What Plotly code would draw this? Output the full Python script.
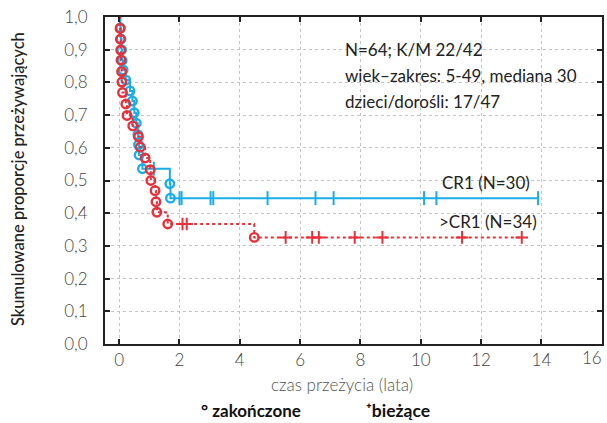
import plotly.graph_objects as go

# ---- data ----
# CR1 (N=30) group: event times (years) and survival after each event
cr1_event_t = [0.04, 0.06, 0.08, 0.10, 0.13, 0.22, 0.36, 0.44, 0.50, 0.57, 0.62, 0.64, 0.66, 0.77, 1.68, 1.70]
cr1_event_s = [0.967, 0.933, 0.900, 0.867, 0.838, 0.807, 0.774, 0.743, 0.707, 0.675, 0.640, 0.609, 0.578, 0.536, 0.490, 0.446]
cr1_censor_t = [1.15, 2.00, 2.07, 3.03, 3.12, 4.92, 6.51, 7.11, 10.11, 10.52, 13.89]

# >CR1 (N=34) group
gcr1_event_t = [0.03, 0.04, 0.05, 0.06, 0.08, 0.09, 0.11, 0.22, 0.26, 0.45, 0.64, 0.70, 0.86, 1.03, 1.05, 1.19, 1.22, 1.25, 1.61, 4.48]
gcr1_event_s = [0.965, 0.932, 0.899, 0.868, 0.833, 0.801, 0.769, 0.734, 0.699, 0.667, 0.634, 0.602, 0.569, 0.533, 0.500, 0.469, 0.435, 0.403, 0.367, 0.326]
gcr1_censor_t = [2.10, 2.24, 5.52, 6.40, 6.62, 7.81, 8.73, 11.37, 13.35]

x_ticks = [0, 2, 4, 6, 8, 10, 12, 14, 16]
x_tick_labels = ["0", "2", "4", "6", "8", "10", "12", "14", "16"]
y_ticks = [0.0, 0.1, 0.2, 0.3, 0.4, 0.5, 0.6, 0.7, 0.8, 0.9, 1.0]

info_lines = ["N=64; K/M 22/42", "wiek–zakres: 5-49, mediana 30", "dzieci/dorośli: 17/47"]
group_labels = ["CR1 (N=30)", ">CR1 (N=34)"]

BLUE = "#1aaee8"
RED = "#e8303a"
FONT = "Lato"


def surv_at(t, et, es):
    s = 1.0
    for ti, si in zip(et, es):
        if ti <= t:
            s = si
    return s


def step_path(et, es, ct):
    end = max(ct + et)
    xs = [0.0] + list(et) + [end]
    ys = [1.0] + list(es) + [es[-1]]
    return xs, ys


fig = go.Figure()

for et, es, ct, col, dash, csym, csize in [
    (cr1_event_t, cr1_event_s, cr1_censor_t, BLUE, "solid", "line-ns", 10),
    (gcr1_event_t, gcr1_event_s, gcr1_censor_t, RED, "3px,3px", "cross-thin", 9),
]:
    xs, ys = step_path(et, es, ct)
    fig.add_trace(go.Scatter(x=xs, y=ys, mode="lines", line=dict(color=col, width=2, dash=dash, shape="hv"),
                             showlegend=False, hoverinfo="skip"))
    fig.add_trace(go.Scatter(x=et, y=es, mode="markers",
                             marker=dict(symbol="circle-open", size=8.5, color=col, line=dict(width=2.4, color=col)),
                             showlegend=False))
    fig.add_trace(go.Scatter(x=ct, y=[surv_at(c, et, es) for c in ct], mode="markers",
                             marker=dict(symbol=csym, size=csize, color=col, line=dict(width=2, color=col)),
                             showlegend=False))

W, H = 607, 423
L, R, T, B = 105, 5, 17, 79
pw, ph = W - L - R, H - T - B


def px(x):
    return (x - L) / pw


def py(y_top):
    return (H - y_top - B) / ph


TICKFONT = dict(family=FONT, size=17, color="#444", weight=300)
TXT = dict(family=FONT, size=17, color="#222")
annotations = []
for i, line in enumerate(info_lines):
    annotations.append(dict(x=px(343), y=py(50 + i * 25.5), xref="paper", yref="paper", text=line,
                            showarrow=False, xanchor="left", yanchor="middle", font=TXT))
annotations.append(dict(x=px(440), y=py(182), xref="paper", yref="paper", text=group_labels[0],
                        showarrow=False, xanchor="left", yanchor="middle", font=TXT))
annotations.append(dict(x=px(437), y=py(222), xref="paper", yref="paper", text=group_labels[1],
                        showarrow=False, xanchor="left", yanchor="middle", font=TXT))
# last x tick label sits just inside the right edge of the page (as in the original)
annotations.append(dict(x=px(604), y=py(345), xref="paper", yref="paper", text=x_tick_labels[-1],
                        showarrow=False, xanchor="right", yanchor="top", font=TICKFONT))
annotations.append(dict(x=px(342), y=py(384), xref="paper", yref="paper", text="czas przeżycia (lata)",
                        showarrow=False, xanchor="center", yanchor="middle",
                        font=dict(family=FONT, size=17, color="#555", weight=300)))
annotations.append(dict(x=px(18), y=py(179), xref="paper", yref="paper", text="Skumulowane proporcje przeżywających",
                        showarrow=False, xanchor="center", yanchor="middle", textangle=-90,
                        font=dict(family=FONT, size=16.5, color="#222", weight=500)))
annotations.append(dict(x=px(199), y=py(410), xref="paper", yref="paper", text="° zakończone", showarrow=False,
                        xanchor="left", yanchor="middle", font=dict(family=FONT, size=17, color="#111", weight=700)))
annotations.append(dict(x=px(364), y=py(410), xref="paper", yref="paper", text="⁺bieżące", showarrow=False,
                        xanchor="left", yanchor="middle", font=dict(family=FONT, size=17.5, color="#111", weight=700)))

axis_common = dict(showline=True, linecolor="#222", linewidth=2, mirror="ticks", ticks="inside", ticklen=5,
                   tickwidth=2, tickcolor="#222", showgrid=True, gridcolor="#c4c4c4", griddash="dot", gridwidth=1,
                   zeroline=False, automargin=False, tickfont=TICKFONT)

fig.update_layout(
    width=W, height=H, margin=dict(l=L, r=R, t=T, b=B, autoexpand=False),
    plot_bgcolor="white", paper_bgcolor="white", separators=",.",
    showlegend=False, annotations=annotations,
    xaxis=dict(range=[-0.47, 16.01], tickvals=x_ticks, ticktext=x_tick_labels[:-1] + [""],
               ticklabelstandoff=0, **axis_common),
    yaxis=dict(range=[0, 1.0], tickvals=y_ticks, tickformat=".1f", ticklabelstandoff=12, **axis_common),
)

fig.write_html("out.html", config={"displayModeBar": False},
               post_script="document.body.style.margin='0';document.body.style.padding='0';")
